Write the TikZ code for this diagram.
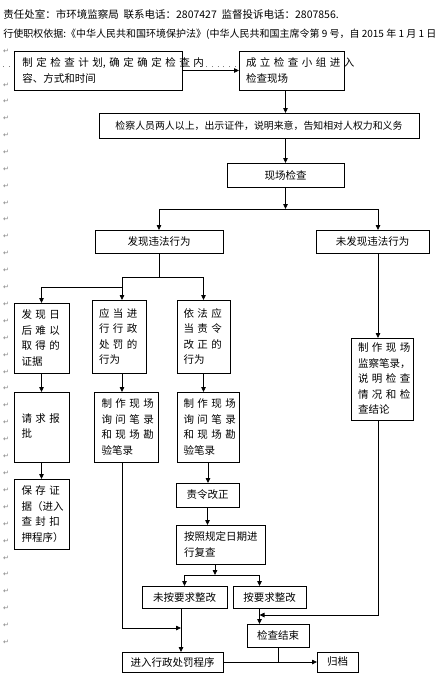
\documentclass[tikz,border=0pt]{standalone}
\usepackage{fontspec}
\setmainfont{Noto Sans CJK SC}
\newfontfamily\markfont{DejaVu Sans}
\usetikzlibrary{arrows.meta}
\newcommand{\jline}[1]{\makebox[\linewidth][s]{#1}}

\tikzset{
  box/.style={draw, fill=white, line width=0.8pt, inner sep=0pt, outer sep=0pt, font=\fontsize{10.5}{15.5}\selectfont},
  tall/.style={box, align=left},
  head/.style={anchor=base west, inner sep=0pt, font=\fontsize{10.5}{12}\selectfont},
  pmark/.style={text=gray, inner sep=0pt, font=\markfont\fontsize{7}{7}\selectfont},
}

\begin{document}
\begin{tikzpicture}[x=1pt, y=-1pt, line width=0.8pt, >={Triangle[length=5pt,width=4.5pt]}]
\useasboundingbox (0,0) rectangle (441,686);

\node[head] (duty) at (3,18) {责任处室：市环境监察局\ \ 联系电话：2807427\ \ 监督投诉电话：2807856.};
\node[head, font=\fontsize{10}{12}\selectfont] (basis) at (3,37) {行使职权依据:《中华人民共和国环境保护法》(中华人民共和国主席令第 9 号，自 2015 年 1 月 1 日};

\draw[gray, dash pattern=on 0.8pt off 5pt] (3,66) -- (238,66);

\node[box, minimum width=168pt, minimum height=39pt, text width=151pt, align=left] (plan) at (98,70.5) {\jline{制 定 检 查 计 划, 确 定 确 定 检 查 内}\\容、方式和时间};
\node[box, minimum width=105pt, minimum height=39pt, text width=91pt, align=left] (team) at (291.5,70.5) {\jline{成 立 检 查 小 组 进 入}\\检查现场};
\node[box, minimum width=320pt, minimum height=25pt, font=\fontsize{9.9}{12}\selectfont] (inform) at (259,125.5) {检察人员两人以上，出示证件，说明来意，告知相对人权力和义务};
\node[box, minimum width=117pt, minimum height=24pt] (check) at (285.5,175) {现场检查};
\node[box, minimum width=128pt, minimum height=23pt] (found) at (159,241.5) {发现违法行为};
\node[box, minimum width=113pt, minimum height=23pt] (notfound) at (372.5,241.5) {未发现违法行为};

\node[tall, minimum width=55pt, minimum height=70pt, text width=40pt] (hardproof) at (41.5,338) {\jline{发 现 日}\\\jline{后 难 以}\\\jline{取 得 的}\\证据};
\node[tall, minimum width=54pt, minimum height=73pt, text width=40pt] (penalty) at (119,336.5) {\jline{应 当 进}\\\jline{行 行 政}\\\jline{处 罚 的}\\行为};
\node[tall, minimum width=53pt, minimum height=73pt, text width=40pt] (correct) at (203.5,336.5) {\jline{依 法 应}\\\jline{当 责 令}\\\jline{改 正 的}\\行为};

\node[tall, minimum width=55pt, minimum height=70pt, text width=40pt] (approve) at (41.5,427) {\strut\\\jline{请 求 报}\\批\\\strut};
\node[tall, minimum width=64pt, minimum height=70pt, text width=49pt] (recordA) at (126,427) {\jline{制 作 现 场}\\\jline{询 问 笔 录}\\\jline{和 现 场 勘}\\验笔录};
\node[tall, minimum width=62pt, minimum height=70pt, text width=49pt] (recordB) at (208,427) {\jline{制 作 现 场}\\\jline{询 问 笔 录}\\\jline{和 现 场 勘}\\验笔录};
\node[tall, minimum width=62pt, minimum height=82pt, text width=48pt] (inspect) at (382,379) {\jline{制 作 现 场}\\监察笔录，\\\jline{说 明 检 查}\\\jline{情 况 和 检}\\查结论};

\node[tall, minimum width=55pt, minimum height=70pt, text width=40pt] (keep) at (41.5,514) {\jline{保 存 证}\\据（进入\\\jline{查 封 扣}\\押程序）};
\node[box, minimum width=63pt, minimum height=24pt] (order) at (207.5,495) {责令改正};
\node[tall, minimum width=89pt, minimum height=39pt, text width=73pt] (recheck) at (220.5,544.5) {按照规定日期进\\行复查};
\node[box, minimum width=85pt, minimum height=22pt] (notfixed) at (184.5,597) {未按要求整改};
\node[box, minimum width=73pt, minimum height=22pt] (fixed) at (269.5,597) {按要求整改};
\node[box, minimum width=62pt, minimum height=23pt] (finish) at (278,635.5) {检查结束};
\node[box, minimum width=101pt, minimum height=20pt] (punish) at (172.5,662) {进入行政处罚程序};
\node[box, minimum width=41pt, minimum height=20pt] (archive) at (337.5,662) {归档};

\coordinate (split) at (285.5,209);
\coordinate (branch) at (159,277);
\coordinate (step) at (122,287);
\coordinate (colA) at (122,0);
\coordinate (colR) at (378,0);
\coordinate (split2) at (215,575);
\coordinate (colF) at (259.5,0);
\coordinate (join) at (259.5,615);
\coordinate (meet) at (181,628);

\draw[->] (plan) -- (team);
\draw[->] (team.south -| check) -- (inform.north -| check);
\draw[->] (inform.south -| check) -- (check);
\draw[->] (check) -- (split);
\draw[->] (split) -| (found);
\draw[->] (split) -| (colR |- notfound.north);
\draw (found) -- (branch);
\draw[->] (branch) -| (correct);
\draw[->] (branch) -| (colA |- penalty.north);
\draw[->] (step) -| (hardproof);
\draw[->] (hardproof) -- (approve);
\draw[->] (approve) -- (keep);
\draw[->] (colA |- penalty.south) -- (colA |- recordA.north);
\draw[->] (correct.south) -- (correct.south |- recordB.north);
\draw[->] (recordB.south) -- (recordB.south |- order.north);
\draw[->] (order) -- (order |- recheck.north);
\draw[->] (recheck.south -| split2) -- (split2);
\draw[->] (split2) -| (notfixed);
\draw[->] (split2) -| (colF |- fixed.north);
\draw[->] (colF |- fixed.south) -- (colF |- finish.north);
\draw[->] (colR |- notfound.south) -- (colR |- inspect.north);
\draw[->] (colR |- inspect.south) |- (join);
\draw[->] (colA |- recordA.south) |- (meet);
\draw[->] (meet |- notfixed.south) -- (meet |- punish.north);
\draw[->] (punish) -- (archive);
\draw (finish) -- (finish |- punish);

\node[pmark] (top1) at (6,51) {↵};
\node[pmark] (top2) at (6,85) {↵};
\foreach \k in {0,...,32}
  \node[pmark] (m\k) at (6,{101.5+16.9*\k}) {↵};
\end{tikzpicture}
\end{document}
